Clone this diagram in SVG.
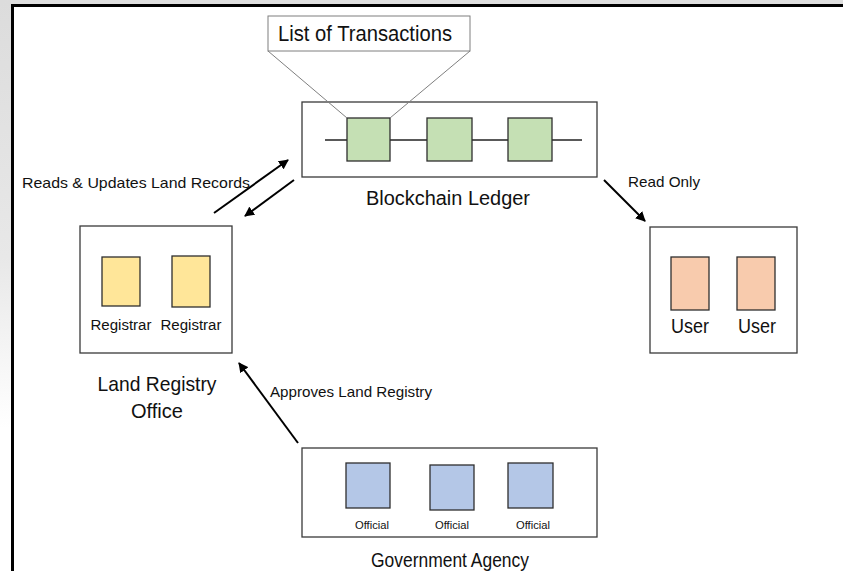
<svg xmlns="http://www.w3.org/2000/svg" width="843" height="571" viewBox="0 0 843 571">
  <style>
    .frame { fill: #ffffff; stroke: #3a3a3a; stroke-width: 1.3; }
    .blk { stroke: #2e2e2e; stroke-width: 1.3; }
    .green { fill: #c5e0b4; }
    .yellow { fill: #ffe699; }
    .orange { fill: #f8cbad; }
    .blue { fill: #b4c7e7; }
    .lbl { font-family: "Liberation Sans", Arial, sans-serif; fill: #111111; }
    .arrow { stroke: #000000; stroke-width: 2; fill: none; marker-end: url(#head); }
    .callout { stroke: #7f7f7f; stroke-width: 1; fill: none; }
  </style>
  <defs>
    <marker id="head" viewBox="0 0 10 10" refX="9" refY="5" markerWidth="5" markerHeight="5" orient="auto">
      <path d="M0,0 L10,5 L0,10 z" fill="#000000"/>
    </marker>
    <linearGradient id="edgeFade" x1="0" y1="0" x2="0" y2="1">
      <stop offset="0" stop-color="#dcdcdc"/>
      <stop offset="0.45" stop-color="#e8e8e8"/>
      <stop offset="0.75" stop-color="#ffffff"/>
    </linearGradient>
  </defs>

  <!-- page background and outer frame edges -->
  <rect x="0" y="0" width="843" height="571" fill="#ffffff"/>
  <rect x="0" y="0" width="843" height="4" fill="#dedede"/>
  <rect x="0" y="0" width="11" height="571" fill="url(#edgeFade)"/>
  <line x1="12.5" y1="5" x2="12.5" y2="571" stroke="#000000" stroke-width="3"/>
  <line x1="11" y1="5.5" x2="843" y2="5.5" stroke="#000000" stroke-width="3"/>

  <!-- connectors -->
  <g id="connectors">
    <line class="arrow" x1="214" y1="213" x2="288" y2="160"/>
    <line class="arrow" x1="294" y1="180" x2="245" y2="216"/>
    <line class="arrow" x1="604" y1="180" x2="645" y2="221"/>
    <line class="arrow" x1="298" y1="443" x2="239" y2="363"/>
    <text class="lbl" x="22" y="188" font-size="15" textLength="228" lengthAdjust="spacingAndGlyphs">Reads &amp; Updates Land Records</text>
    <text class="lbl" x="628" y="187" font-size="15" textLength="72" lengthAdjust="spacingAndGlyphs">Read Only</text>
    <text class="lbl" x="270" y="397" font-size="15" textLength="162" lengthAdjust="spacingAndGlyphs">Approves Land Registry</text>
  </g>

  <!-- blockchain ledger with transaction callout -->
  <g id="blockchain-ledger">
    <rect class="frame" x="302" y="102" width="295" height="75"/>
    <line x1="325" y1="140" x2="582" y2="140" stroke="#222222" stroke-width="1.3"/>
    <rect class="blk green" x="347" y="118" width="43" height="43"/>
    <rect class="blk green" x="427" y="118" width="45" height="43"/>
    <rect class="blk green" x="508" y="118" width="44" height="43"/>
    <text class="lbl" x="448" y="205" font-size="20" text-anchor="middle" textLength="164" lengthAdjust="spacingAndGlyphs">Blockchain Ledger</text>
  </g>

  <g id="transaction-list">
    <rect x="268" y="16" width="202" height="35" fill="#ffffff" stroke="#7f7f7f" stroke-width="1"/>
    <line class="callout" x1="268" y1="51" x2="347" y2="118"/>
    <line class="callout" x1="470" y1="51" x2="390" y2="118"/>
    <text class="lbl" x="365" y="41" font-size="22" text-anchor="middle" textLength="174" lengthAdjust="spacingAndGlyphs">List of Transactions</text>
  </g>

  <!-- land registry office -->
  <g id="land-registry-office">
    <rect class="frame" x="80" y="226" width="152" height="127"/>
    <rect class="blk yellow" x="102" y="257" width="38" height="49"/>
    <rect class="blk yellow" x="172" y="256" width="38" height="51"/>
    <text class="lbl" x="121" y="330" font-size="15.5" text-anchor="middle" textLength="61" lengthAdjust="spacingAndGlyphs">Registrar</text>
    <text class="lbl" x="191" y="330" font-size="15.5" text-anchor="middle" textLength="61" lengthAdjust="spacingAndGlyphs">Registrar</text>
    <text class="lbl" x="157" y="391" font-size="21" text-anchor="middle" textLength="119" lengthAdjust="spacingAndGlyphs">Land Registry</text>
    <text class="lbl" x="157" y="418" font-size="21" text-anchor="middle" textLength="52" lengthAdjust="spacingAndGlyphs">Office</text>
  </g>

  <!-- users -->
  <g id="users">
    <rect class="frame" x="650" y="227" width="147" height="126"/>
    <rect class="blk orange" x="671" y="257" width="38" height="53"/>
    <rect class="blk orange" x="737" y="257" width="38" height="53"/>
    <text class="lbl" x="690" y="333" font-size="20" text-anchor="middle" textLength="38" lengthAdjust="spacingAndGlyphs">User</text>
    <text class="lbl" x="757" y="333" font-size="20" text-anchor="middle" textLength="38" lengthAdjust="spacingAndGlyphs">User</text>
  </g>

  <!-- government agency -->
  <g id="government-agency">
    <rect class="frame" x="302" y="448" width="295" height="89"/>
    <rect class="blk blue" x="346" y="463" width="44" height="45"/>
    <rect class="blk blue" x="430" y="465" width="44" height="45"/>
    <rect class="blk blue" x="508" y="463" width="45" height="45"/>
    <text class="lbl" x="372" y="529" font-size="10.5" text-anchor="middle" textLength="34" lengthAdjust="spacingAndGlyphs">Official</text>
    <text class="lbl" x="452" y="529" font-size="10.5" text-anchor="middle" textLength="34" lengthAdjust="spacingAndGlyphs">Official</text>
    <text class="lbl" x="533" y="529" font-size="10.5" text-anchor="middle" textLength="34" lengthAdjust="spacingAndGlyphs">Official</text>
    <text class="lbl" x="450" y="567" font-size="21" text-anchor="middle" textLength="158" lengthAdjust="spacingAndGlyphs">Government Agency</text>
  </g>
</svg>
